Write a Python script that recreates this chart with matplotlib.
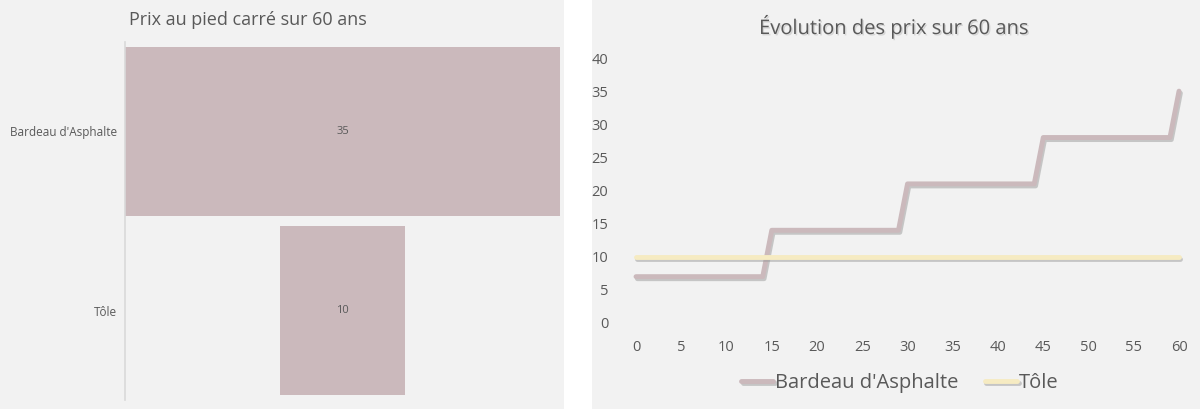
import matplotlib.pyplot as plt
import matplotlib.patheffects as pe
from matplotlib.patches import Rectangle

# Data
categories = ["Bardeau d'Asphalte", "Tôle"]
prix_60_ans = [35, 10]

annees = [0, 1, 2, 3, 4, 5, 6, 7, 8, 9, 10, 11, 12, 13, 14, 15, 16, 17, 18, 19, 20,
          21, 22, 23, 24, 25, 26, 27, 28, 29, 30, 31, 32, 33, 34, 35, 36, 37, 38, 39, 40,
          41, 42, 43, 44, 45, 46, 47, 48, 49, 50, 51, 52, 53, 54, 55, 56, 57, 58, 59, 60]
prix_bardeau = [7, 7, 7, 7, 7, 7, 7, 7, 7, 7, 7, 7, 7, 7, 7,
                14, 14, 14, 14, 14, 14, 14, 14, 14, 14, 14, 14, 14, 14, 14,
                21, 21, 21, 21, 21, 21, 21, 21, 21, 21, 21, 21, 21, 21, 21,
                28, 28, 28, 28, 28, 28, 28, 28, 28, 28, 28, 28, 28, 28, 28,
                35]
prix_tole = [10, 10, 10, 10, 10, 10, 10, 10, 10, 10, 10, 10, 10, 10, 10,
             10, 10, 10, 10, 10, 10, 10, 10, 10, 10, 10, 10, 10, 10, 10,
             10, 10, 10, 10, 10, 10, 10, 10, 10, 10, 10, 10, 10, 10, 10,
             10, 10, 10, 10, 10, 10, 10, 10, 10, 10, 10, 10, 10, 10, 10,
             10]
x_ticks = [0, 5, 10, 15, 20, 25, 30, 35, 40, 45, 50, 55, 60]
y_ticks = [0, 5, 10, 15, 20, 25, 30, 35, 40]

BG = "#f2f2f2"
TXT = "#595959"
C_BARDEAU = "#cbb9bc"
C_TOLE = "#f6ebc2"
FONT = "Open Sans"

plt.rcParams["font.family"] = [FONT, "DejaVu Sans"]

fig = plt.figure(figsize=(12, 4.09), dpi=100)
fig.patch.set_facecolor("white")

# Panel backgrounds
fig.patches.append(Rectangle((0, 0), 564 / 1200, 1, transform=fig.transFigure,
                             facecolor=BG, edgecolor="none", zorder=-10))
fig.patches.append(Rectangle((592 / 1200, 0), 608 / 1200, 1, transform=fig.transFigure,
                             facecolor=BG, edgecolor="none", zorder=-10))

# Left: centred bars
ax1 = fig.add_axes([125 / 1200, 1 - 400 / 409, 435 / 1200, 358 / 409])
ax1.set_facecolor("none")
y = list(range(len(categories)))
lefts = [-v / 2 for v in prix_60_ans]
ax1.barh(y, prix_60_ans, left=lefts, height=0.94, color=C_BARDEAU)
for yi, v in zip(y, prix_60_ans):
    ax1.text(0, yi, str(v), ha="center", va="center", fontsize=8, color=TXT)
ax1.set_xlim(-17.5, 17.5)
ax1.set_ylim(1.5, -0.5)
ax1.set_yticks(y)
ax1.set_yticklabels(categories, fontsize=8.5, color=TXT)
ax1.set_xticks([])
ax1.tick_params(axis="y", length=0, pad=6)
for s in ["top", "right", "bottom"]:
    ax1.spines[s].set_visible(False)
ax1.spines["left"].set_color("#d9d9d9")
ax1.spines["left"].set_linewidth(1.2)
fig.text(248 / 1200, 1 - 20 / 409, "Prix au pied carré sur 60 ans", ha="center",
         va="center", fontsize=13, color=TXT)

# Right: evolution lines
ax2 = fig.add_axes([636 / 1200, 1 - 323 / 409, 543 / 1200, 265 / 409])
ax2.set_facecolor("none")
shadow = [pe.SimpleLineShadow(offset=(1, -1.5), shadow_color="#9a9a9a", alpha=0.5), pe.Normal()]
ax2.plot(annees, prix_bardeau, color=C_BARDEAU, lw=3.5, label=categories[0],
         path_effects=shadow, solid_capstyle="round", clip_on=False)
ax2.plot(annees, prix_tole, color=C_TOLE, lw=3.5, label=categories[1],
         path_effects=shadow, solid_capstyle="round", clip_on=False)
ax2.set_xlim(0, 60)
ax2.set_ylim(0, 40)
ax2.set_xticks(x_ticks)
ax2.set_yticks(y_ticks)
ax2.tick_params(length=0, labelsize=10.5, colors=TXT)
ax2.tick_params(axis="y", pad=20)
ax2.tick_params(axis="x", pad=12)
for s in ax2.spines.values():
    s.set_visible(False)
fig.text(894 / 1200, 1 - 27 / 409, "Évolution des prix sur 60 ans", ha="center",
         va="center", fontsize=14.5, color=TXT,
         path_effects=[pe.withSimplePatchShadow(offset=(1, -1), shadow_rgbFace="#aaaaaa", alpha=0.4)])
leg = fig.legend(loc="center", bbox_to_anchor=(900 / 1200, 1 - 383 / 409), ncol=2,
                 frameon=False, fontsize=14.5, handlelength=1.6, handletextpad=0.1,
                 columnspacing=1.3, labelcolor=TXT)

fig.savefig("out.png", dpi=100, facecolor=fig.get_facecolor())
